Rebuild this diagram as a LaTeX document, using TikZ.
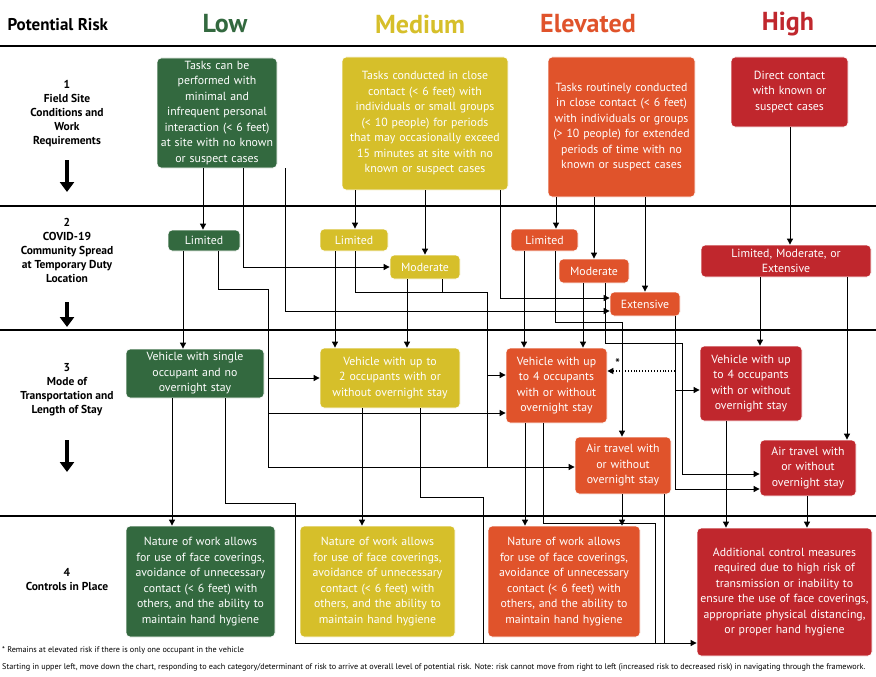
\documentclass[tikz,border=0pt]{standalone}
\usepackage{fontspec}
\setmainfont{PT Sans}
\usetikzlibrary{arrows.meta,calc}
\hyphenpenalty=10000
\exhyphenpenalty=10000
\definecolor{cg}{HTML}{33693F}
\definecolor{cy}{HTML}{D6BF2A}
\definecolor{co}{HTML}{E0532B}
\definecolor{cr}{HTML}{C0272D}
\newcommand\bx[7]{\node[box,fill=#6,minimum width={(#4-#2)*1pt},minimum height={(#5-#3)*1pt},text width=\dimexpr #4pt-#2pt-4pt\relax] (#1) at ({(#2+#4)/2},{(#3+#5)/2}) {#7};}
\begin{document}
\begin{tikzpicture}[x=1pt,y=-1pt,
 box/.style={rounded corners=4pt,draw=white,line width=0.8pt,text=white,align=center,inner sep=1pt,font=\fontsize{11.8}{15.5}\selectfont},
 ln/.style={draw,line width=0.9pt},
 arr/.style={ln,-{Triangle[length=6pt,width=6pt]}},
 sep/.style={line width=2.6pt},
 big/.style={line width=3.2pt,-{Triangle[length=10pt,width=14pt]}},
 lab/.style={font=\bfseries\fontsize{11.5}{14}\selectfont,align=center},
 hd/.style={font=\bfseries\fontsize{26}{28}\selectfont}]
\useasboundingbox[fill=white] (0,0) rectangle (876,677);
% headers
\node[font=\bfseries\fontsize{17}{19}\selectfont,anchor=west] (hpr) at (4,25) {Potential Risk};
\node[hd,text=cg] (hl) at (225,24) {Low};
\node[hd,text=cy] (hm) at (420,24) {Medium};
\node[hd,text=co] (he) at (588,24) {Elevated};
\node[hd,text=cr] (hh) at (788,24) {High};
\foreach \y in {46,206,330,516} \draw[sep] (0,\y) -- (876,\y);
% left labels
\node[lab] (r1) at (67,114) {1\\Field Site\\Conditions and\\Work\\Requirements};
\node[lab] (r2) at (67,250) {2\\COVID-19\\Community Spread\\at Temporary Duty\\Location};
\node[lab] (r3) at (67,390) {3\\Mode of\\Transportation and\\Length of Stay};
\node[lab] (r4) at (67,580) {4\\Controls in Place};
\coordinate (a1) at (67,160); \coordinate (b1) at (67,192);
\coordinate (a2) at (67,302); \coordinate (b2) at (67,327);
\coordinate (a3) at (67,440); \coordinate (b3) at (67,472);
\draw[big] (a1)--(b1); \draw[big] (a2)--(b2); \draw[big] (a3)--(b3);
% row 1
\bx{L1}{157}{58}{277}{168}{cg}{Tasks can be performed with minimal and infrequent personal interaction (< 6 feet) at site with no known or suspect cases}
\bx{M1}{342}{57}{508}{190}{cy}{Tasks conducted in close contact (< 6 feet) with individuals or small groups (< 10 people) for periods that may occasionally exceed 15 minutes at site with no known or suspect cases}
\bx{E1}{548}{57}{695}{197}{co}{Tasks routinely conducted in close contact (< 6 feet) with individuals or groups (> 10 people) for extended periods of time with no known or suspect cases}
\bx{H1}{731}{57}{848}{127}{cr}{Direct contact with known or suspect cases}
% row 2
\bx{L2l}{168}{230}{240}{251}{cg}{Limited}
\bx{M2l}{320}{229}{388}{251}{cy}{Limited}
\bx{M2m}{390}{255}{460}{279}{cy}{Moderate}
\bx{E2l}{511}{229}{578}{251}{co}{Limited}
\bx{E2m}{559}{259}{629}{283}{co}{Moderate}
\bx{Ext}{610}{292}{680}{316}{co}{Extensive}
\bx{H2}{701}{245}{871}{277}{cr}{Limited, Moderate, or\\Extensive}
% row 3
\bx{L3}{126}{349}{264}{398}{cg}{Vehicle with single occupant and no overnight stay}
\bx{M3}{320}{348}{460}{408}{cy}{Vehicle with up to 2 occupants with or without overnight stay}
\bx{E3}{506}{348}{607}{423}{co}{Vehicle with up to 4 occupants with or without overnight stay}
\bx{EA}{575}{437}{671}{494}{co}{Air travel with or without overnight stay}
\bx{H3}{700}{346}{802}{421}{cr}{Vehicle with up to 4 occupants with or without overnight stay}
\bx{HA}{760}{440}{856}{496}{cr}{Air travel with or without overnight stay}
% row 4
\bx{L4}{126}{526}{275}{637}{cg}{Nature of work allows for use of face coverings, avoidance of unnecessary contact (< 6 feet) with others, and the ability to maintain hand hygiene}
\bx{M4}{300}{526}{455}{637}{cy}{Nature of work allows for use of face coverings, avoidance of unnecessary contact (< 6 feet) with others, and the ability to maintain hand hygiene}
\bx{E4}{488}{526}{640}{637}{co}{Nature of work allows for use of face coverings, avoidance of unnecessary contact (< 6 feet) with others, and the ability to maintain hand hygiene}
\bx{H4}{697}{528}{872}{656}{cr}{Additional control measures required due to high risk of transmission or inability to ensure the use of face coverings, appropriate physical distancing, or proper hand hygiene}
% row1 -> row2
\draw[arr] (L1.south-|203,0) -- (L2l.north-|203,0);
\draw[arr] (L1.south-|243,0) |- (M2m.west);
\draw[arr] (L1.south-|285,0) |- ([yshift=-7pt]Ext.west);
\draw[arr] (M1.south-|500,0) |- ([yshift=6pt]Ext.west);
\draw[arr] (M1.south-|355,0) -- (M2l.north-|355,0);
\draw[arr] (M1.south-|425,0) -- (M2m.north-|425,0);
\draw[arr] (E1.south-|556,0) -- (E2l.north-|556,0);
\draw[arr] (E1.south-|594,0) -- (E2m.north-|594,0);
\draw[arr] (E1.south-|645,0) -- (Ext.north-|645,0);
\draw[arr] (H1.south-|790,0) -- (H2.north-|790,0);
% row2 -> row3
\coordinate (jL) at (268,289);
\coordinate (jM) at (487,292);
\coordinate (jE) at (622,322);
\coordinate (jX) at (682,343);
\draw[arr] (L2l.south-|183,0) -- (L3.north-|183,0);
\draw[ln] (L2l.south-|218,0) |- (jL);
\draw[arr] (jL) |- (EA.west|-0,467);
\draw[arr] (jL|-0,378) -- (M3.west|-0,378);
\draw[arr] (jL|-0,413) -- (E3.west|-0,413);
\draw[arr] (M2l.south-|335,0) -- (M3.north-|335,0);
\draw[arr] (M2m.south-|407,0) -- (M3.north-|407,0);
\draw[ln] (M2l.south-|355,0) |- (jM);
\draw[ln] (M2m.south-|442,0) -- (442,292);
\draw[ln] (jM) -- (487,467);
\draw[arr] (jM|-0,375) -- (E3.west|-0,375);
\draw[arr] (E2l.south-|524,0) -- (E3.north-|524,0);
\draw[ln] (E2l.south-|555,0) |- (jE);
\draw[arr] (jE) -- (EA.north-|622,0);
\draw[arr] (E2m.south-|583,0) -- (E3.north-|583,0);
\draw[ln] (E2m.south-|605,0) |- (jX);
\draw[arr] (jX) |- (HA.west|-0,474);
\draw[arr] (Ext.south-|675,0) |- (HA.west|-0,489);
\draw[arr] (675,390) -- (H3.west|-0,390);
\draw[ln,dotted,line width=1.6pt,-{Triangle[length=6pt,width=6pt]}] (675,371) -- (E3.east|-0,371) node[pos=0.85,above=-1pt,font=\bfseries\fontsize{12}{12}\selectfont] (star) {*};
\draw[arr] (H2.south-|760,0) -- (H3.north-|760,0);
\draw[arr] (H2.south-|847,0) -- (HA.north-|847,0);
% row3 -> row4
\coordinate (jB) at (295,643);
\draw[arr] (L3.south-|172,0) -- (L4.north-|172,0);
\draw[ln] (L3.south-|225,0) |- (295,503) -- (jB);
\draw[arr] (jB) -- (H4.west|-0,643);
\draw[arr] (M3.south-|362,0) -- (M4.north-|362,0);
\draw[ln] (M3.south-|420,0) |- (483,497) -- (483,643);
\draw[arr] (E3.south-|525,0) -- (E4.north-|525,0);
\draw[ln] (E3.south-|543,0) |- (655,523) -- (655,643);
\draw[arr] (EA.south-|622,0) -- (E4.north-|622,0);
\draw[ln] (EA.south-|664,0) -- (664,643);
\draw[arr] (H3.south-|726,0) -- (H4.north-|726,0);
\draw[arr] (HA.south-|807,0) -- (H4.north-|807,0);
% footnotes
\node[anchor=west,inner sep=0pt,font=\fontsize{8.2}{9}\selectfont] (f1) at (2,650) {* Remains at elevated risk if there is only one occupant in the vehicle};
\node[anchor=west,inner sep=0pt,font=\fontsize{8.2}{9}\selectfont] (f2) at (2,667) {Starting in upper left, move down the chart, responding to each category/determinant of risk to arrive at overall level of potential risk. Note: risk cannot move from right to left (increased risk to decreased risk) in navigating through the framework.};
\end{tikzpicture}
\end{document}
